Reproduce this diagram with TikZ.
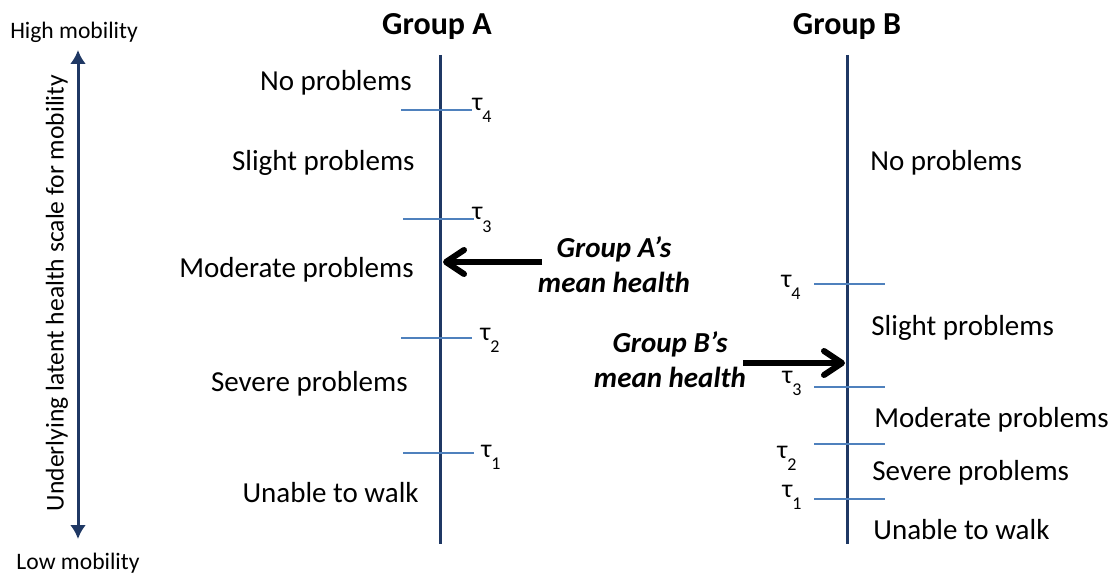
\documentclass[tikz,border=0pt]{standalone}
\usepackage{fontspec}
\setmainfont{Carlito}
\usetikzlibrary{arrows.meta}
\definecolor{axisnavy}{RGB}{31,56,100}
\definecolor{cutblue}{RGB}{79,129,189}
\newcommand{\tauth}[1]{τ\raisebox{-6pt}{\fontsize{9}{11}\selectfont #1}}
\tikzset{
  txt/.style={inner sep=0pt, font=\fontsize{14.5}{17}\selectfont},
  smalltxt/.style={inner sep=0pt, font=\fontsize{11.8}{14}\selectfont},
  grouptitle/.style={inner sep=0pt, font=\fontsize{16}{19}\bfseries},
  meantxt/.style={inner sep=0pt, align=center, font=\fontsize{14.5}{17.5}\selectfont\bfseries\itshape},
  taulab/.style={inner sep=0pt, anchor=base west, font=\fontsize{13}{15}\selectfont},
  groupaxis/.style={axisnavy, line width=1.5pt},
  cutline/.style={cutblue, line width=0.8pt},
  scalearrow/.style={axisnavy, line width=1.5pt, {Latex[length=7pt,width=8pt]}-{Latex[length=7pt,width=8pt]}},
  meanarrow/.style={black, line width=3pt, -{Straight Barb[length=9pt,width=12pt,round]}}
}
\begin{document}
\begin{tikzpicture}[x=0.5pt,y=-0.5pt]
      \useasboundingbox (0,0) rectangle (1117,577);
      % latent scale
      \node[smalltxt] (high) at (74,32) {High mobility};
      \node[smalltxt] (low) at (78,563) {Low mobility};
      \coordinate (scaletop) at (78,50);
      \coordinate (scalebot) at (78,539);
      \draw [scalearrow] (scalebot) -- (scaletop);
      \node[txt, rotate=90, font=\fontsize{12.8}{15}\selectfont] (latent) at (57,293) {Underlying latent health scale for mobility};
      % group A
      \node[grouptitle] (titleA) at (437,27) {Group A};
      \coordinate (topA) at (440,55);
      \coordinate (botA) at (440,544);
      \draw [groupaxis] (topA) -- (botA);
      \draw [cutline] (401,110) -- (472,110);
      \draw [cutline] (403,219) -- (474,219);
      \draw [cutline] (401,338) -- (472,338);
      \draw [cutline] (403,453) -- (474,453);
      \node[taulab] (a4) at (472,111) {\tauth{4}};
      \node[taulab] (a3) at (472,220) {\tauth{3}};
      \node[taulab] (a2) at (480,340) {\tauth{2}};
      \node[taulab] (a1) at (481,457) {\tauth{1}};
      \node[txt, anchor=east] (noA) at (412,83) {No problems};
      \node[txt, anchor=east] (slightA) at (415,163) {Slight problems};
      \node[txt, anchor=east] (moderateA) at (414,270) {Moderate problems};
      \node[txt, anchor=east] (severeA) at (408,384) {Severe problems};
      \node[txt, anchor=east] (unableA) at (419,493) {Unable to walk};
      \node[meantxt] (meanA) at (614,265) {Group A’s\\mean health};
      \coordinate (hitA) at (443,262);
      \draw [meanarrow] (542,262) -- (hitA);
      % group B
      \node[grouptitle] (titleB) at (847,27) {Group B};
      \coordinate (topB) at (847,55);
      \coordinate (botB) at (847,544);
      \draw [groupaxis] (topB) -- (botB);
      \draw [cutline] (814,284) -- (885,284);
      \draw [cutline] (814,387) -- (885,387);
      \draw [cutline] (814,444) -- (885,444);
      \draw [cutline] (814,499) -- (885,499);
      \node[taulab] (b4) at (781,287) {\tauth{4}};
      \node[taulab] (b3) at (782,383) {\tauth{3}};
      \node[taulab] (b2) at (777,458) {\tauth{2}};
      \node[taulab] (b1) at (782,497) {\tauth{1}};
      \node[txt, anchor=west] (noB) at (870,163) {No problems};
      \node[txt, anchor=west] (slightB) at (871,328) {Slight problems};
      \node[txt, anchor=west] (moderateB) at (874,420) {Moderate problems};
      \node[txt, anchor=west] (severeB) at (872,473) {Severe problems};
      \node[txt, anchor=west] (unableB) at (873,530) {Unable to walk};
      \node[meantxt] (meanB) at (670,360) {Group B’s\\mean health};
      \coordinate (hitB) at (845,363);
      \draw [meanarrow] (743,363) -- (hitB);
\end{tikzpicture}
\end{document}
